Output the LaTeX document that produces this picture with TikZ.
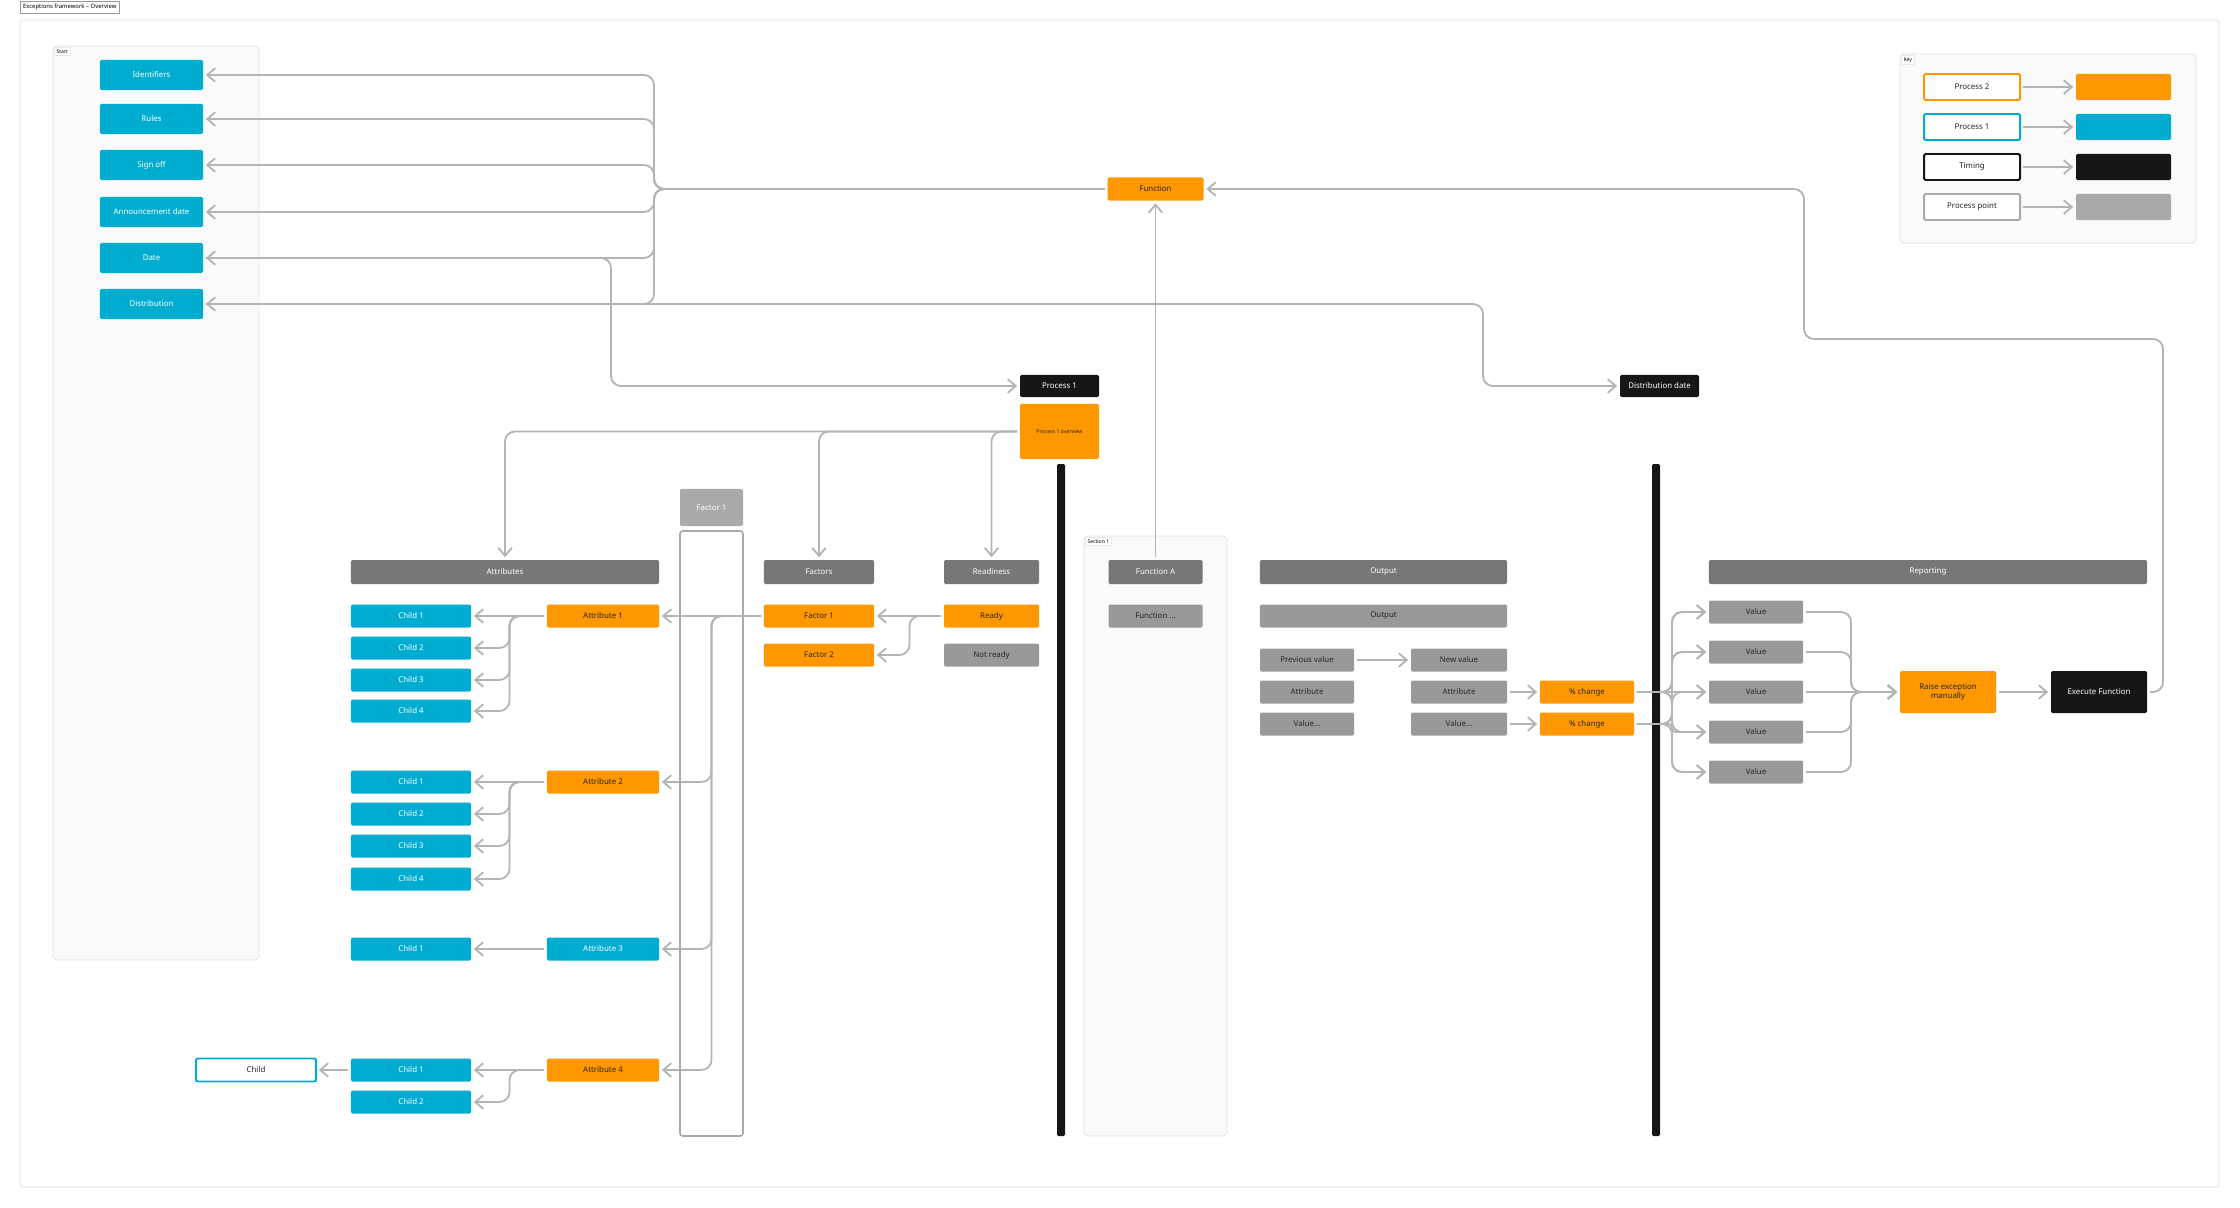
\documentclass[tikz,border=0pt]{standalone}
\usepackage{fontspec}
\setmainfont{Noto Sans}
\usetikzlibrary{arrows.meta,positioning,calc}

\definecolor{pblue}{HTML}{00ADD0}
\definecolor{porange}{HTML}{FF9700}
\definecolor{pblack}{HTML}{161616}
\definecolor{hdgray}{HTML}{777777}
\definecolor{midgray}{HTML}{999999}
\definecolor{ptgray}{HTML}{AAAAAA}
\definecolor{lngray}{HTML}{B4B4B4}
\definecolor{framegray}{HTML}{E2E2E2}
\definecolor{panelbg}{HTML}{FAFAFA}
\definecolor{txtdark}{HTML}{262626}

\begin{document}
\begin{tikzpicture}[
	x=0.025cm,y=-0.025cm,
	>={Straight Barb[length=2mm,width=3.4mm]},
	every node/.style={font=\fontsize{5.6}{6.7}\selectfont},
	box/.style={rectangle, rounded corners=1pt, inner sep=1pt, outer sep=2pt, minimum height=0.575cm, align=center},
	procone/.style={box, fill=pblue, text=white},
	proctwo/.style={box, fill=porange, text=txtdark},
	timingbox/.style={box, fill=pblack, text=white},
	headbox/.style={box, fill=hdgray, text=white, minimum height=0.6cm},
	pointbox/.style={box, fill=midgray, text=txtdark},
	keybox/.style={box, fill=white, line width=1.4pt, text=txtdark, minimum width=2.4cm, minimum height=0.65cm},
	swatch/.style={box, minimum width=2.375cm, minimum height=0.65cm},
	conn/.style={draw=lngray, line width=1.3pt, rounded corners=2.5mm},
	flow/.style={conn, ->},
	panel/.style={draw=framegray, fill=panelbg, line width=0.6pt, rounded corners=3pt},
	tab/.style={draw=framegray, fill=white, font=\fontsize{3.6}{4.2}\selectfont, inner sep=1.6pt, anchor=north west, rounded corners=0.5pt}
	]
	
	% --------------------------
	% Canvas and frame
	% --------------------------
	\fill[white] (0,0) rectangle (2240,1208);
	\useasboundingbox (0,0) rectangle (2240,1208);
	\draw[framegray, line width=0.6pt, rounded corners=2pt] (20,20) rectangle (2219,1187);
	\node[draw=midgray, line width=0.4pt, inner xsep=2pt, inner ysep=1pt, minimum height=0.3cm, anchor=north west, font=\fontsize{4.2}{5}\selectfont] (title) at (20,1) {Exceptions framework – Overview};
	
	% panels
	\draw[panel] (53,46) rectangle (259,960);
	\node[tab] (tStart) at (54,47) {Start};
	\draw[panel] (1900,54) rectangle (2196,243);
	\node[tab] (tKey) at (1901,55) {Key};
	\draw[panel] (1084,536) rectangle (1227,1136);
	\node[tab] (tSec) at (1085,537) {Section 1};
	
	% factor column and timing bars
	\draw[ptgray, fill=white, line width=1.2pt, rounded corners=2pt] (680,531) rectangle (743,1136);
	\fill[pblack, rounded corners=1pt] (1057,464) rectangle (1065,1136);
	\fill[pblack, rounded corners=1pt] (1652,464) rectangle (1660,1136);
	
	% --------------------------
	% Start column
	% --------------------------
	\node[procone, minimum width=2.575cm, minimum height=0.75cm] (ident) at (151.5,75) {Identifiers};
	\node[procone, minimum width=2.575cm, minimum height=0.75cm] (rules) at (151.5,119) {Rules};
	\node[procone, minimum width=2.575cm, minimum height=0.75cm] (signoff) at (151.5,165) {Sign off};
	\node[procone, minimum width=2.575cm, minimum height=0.75cm] (annc) at (151.5,212) {Announcement date};
	\node[procone, minimum width=2.575cm, minimum height=0.75cm] (date) at (151.5,258) {Date};
	\node[procone, minimum width=2.575cm, minimum height=0.75cm] (dist) at (151.5,304) {Distribution};
	
	% --------------------------
	% Top row
	% --------------------------
	\node[proctwo, minimum width=2.4cm] (fn) at (1155.5,189) {Function};
	\node[timingbox, minimum width=1.975cm, minimum height=0.55cm] (proc) at (1059.5,386) {Process 1};
	\node[proctwo, minimum width=1.975cm, minimum height=1.375cm, font=\fontsize{3.7}{4.4}\selectfont] (overview) at (1059.5,431.5) {Process 1 overview};
	\node[timingbox, minimum width=1.975cm, minimum height=0.55cm] (distdate) at (1659.5,386) {Distribution date};
	
	% --------------------------
	% Headers
	% --------------------------
	\node[box, fill=ptgray, text=white, minimum width=1.575cm, minimum height=0.925cm] (facone) at (711.5,507.5) {Factor 1};
	\node[headbox, minimum width=7.7cm] (attrs) at (505,572) {Attributes};
	\node[headbox, minimum width=2.75cm] (factors) at (819,572) {Factors};
	\node[headbox, minimum width=2.375cm] (readiness) at (991.5,572) {Readiness};
	\node[headbox, minimum width=2.35cm] (funA) at (1155.5,572) {Function A};
	\node[headbox, minimum width=6.175cm] (output) at (1383.5,572) {Output};
	\node[headbox, minimum width=10.95cm] (reporting) at (1928,572) {Reporting};
	
	% --------------------------
	% Attributes and children
	% --------------------------
	\node[proctwo, minimum width=2.8cm] (att1) at (603,616) {Attribute 1};
	\node[procone, minimum width=3cm] (c11) at (411,616) {Child 1};
	\node[procone, minimum width=3cm] (c12) at (411,648) {Child 2};
	\node[procone, minimum width=3cm] (c13) at (411,680) {Child 3};
	\node[procone, minimum width=3cm] (c14) at (411,711) {Child 4};
	
	\node[proctwo, minimum width=2.8cm] (att2) at (603,782) {Attribute 2};
	\node[procone, minimum width=3cm] (c21) at (411,782) {Child 1};
	\node[procone, minimum width=3cm] (c22) at (411,814) {Child 2};
	\node[procone, minimum width=3cm] (c23) at (411,846) {Child 3};
	\node[procone, minimum width=3cm] (c24) at (411,879) {Child 4};
	
	\node[procone, minimum width=2.8cm] (att3) at (603,949) {Attribute 3};
	\node[procone, minimum width=3cm] (c31) at (411,949) {Child 1};
	
	\node[proctwo, minimum width=2.8cm] (att4) at (603,1070) {Attribute 4};
	\node[procone, minimum width=3cm] (c41) at (411,1070) {Child 1};
	\node[procone, minimum width=3cm] (c42) at (411,1102) {Child 2};
	\node[box, draw=pblue, line width=1.4pt, fill=white, text=txtdark, minimum width=3cm] (cw) at (256,1070) {Child};
	
	% factors, readiness, function
	\node[proctwo, minimum width=2.75cm] (fac1) at (819,616) {Factor 1};
	\node[proctwo, minimum width=2.75cm] (fac2) at (819,655) {Factor 2};
	\node[proctwo, minimum width=2.375cm] (ready) at (991.5,616) {Ready};
	\node[pointbox, minimum width=2.375cm] (notready) at (991.5,655) {Not ready};
	\node[pointbox, minimum width=2.35cm] (funB) at (1155.5,616) {Function ...};
	
	% --------------------------
	% Output
	% --------------------------
	\node[pointbox, minimum width=6.175cm] (outrow) at (1383.5,616) {Output};
	\node[pointbox, minimum width=2.35cm] (prev) at (1307,660) {Previous value};
	\node[pointbox, minimum width=2.4cm] (newv) at (1459,660) {New value};
	\node[pointbox, minimum width=2.35cm] (attL) at (1307,692) {Attribute};
	\node[pointbox, minimum width=2.4cm] (attR) at (1459,692) {Attribute};
	\node[pointbox, minimum width=2.35cm] (valL) at (1307,724) {Value...};
	\node[pointbox, minimum width=2.4cm] (valR) at (1459,724) {Value...};
	\node[proctwo, minimum width=2.35cm] (pc1) at (1587,692) {\% change};
	\node[proctwo, minimum width=2.35cm] (pc2) at (1587,724) {\% change};
	
	% --------------------------
	% Reporting
	% --------------------------
	\node[pointbox, minimum width=2.35cm] (v1) at (1756,612) {Value};
	\node[pointbox, minimum width=2.35cm] (v2) at (1756,652) {Value};
	\node[pointbox, minimum width=2.35cm] (v3) at (1756,692) {Value};
	\node[pointbox, minimum width=2.35cm] (v4) at (1756,732) {Value};
	\node[pointbox, minimum width=2.35cm] (v5) at (1756,772) {Value};
	\node[proctwo, minimum width=2.4cm, minimum height=1.05cm] (raise) at (1948,692) {Raise exception\\manually};
	\node[timingbox, minimum width=2.4cm, minimum height=1.05cm] (exec) at (2099,692) {Execute Function};
	
	% --------------------------
	% Key
	% --------------------------
	\node[keybox, draw=porange] (k1) at (1972,87) {Process 2};
	\node[keybox, draw=pblue] (k2) at (1972,127) {Process 1};
	\node[keybox, draw=pblack] (k3) at (1972,167) {Timing};
	\node[keybox, draw=ptgray] (k4) at (1972,207) {Process point};
	\node[swatch, fill=porange] (s1) at (2123.5,87) {};
	\node[swatch, fill=pblue] (s2) at (2123.5,127) {};
	\node[swatch, fill=pblack] (s3) at (2123.5,167) {};
	\node[swatch, fill=ptgray] (s4) at (2123.5,207) {};
	\draw[flow] (k1) -- (s1);
	\draw[flow] (k2) -- (s2);
	\draw[flow] (k3) -- (s3);
	\draw[flow] (k4) -- (s4);
	
	% --------------------------
	% Connectors
	% --------------------------
	\coordinate (jStart) at (654,189);
	\coordinate (jDate) at (611,258);
	\coordinate (jDist) at (1483,304);
	\coordinate (rA) at (2163,339);
	\coordinate (rB) at (1804,339);
	
	% function to start items
	\draw[flow] (fn.west) -- (jStart) |- (ident.east);
	\draw[flow] (fn.west) -- (jStart) |- (rules.east);
	\draw[flow] (fn.west) -- (jStart) |- (signoff.east);
	\draw[flow] (fn.west) -- (jStart) |- (annc.east);
	\draw[flow] (fn.west) -- (jStart) |- (date.east);
	\draw[flow] (fn.west) -- (jStart) |- (dist.east);
	\draw[flow] (date.east) -- (jDate) |- (proc.west);
	\draw[flow] (dist.east) -- (jDist) |- (distdate.west);
	\draw[flow] (funA) -- (fn);
	\draw[flow] (exec.east) -| (rA) -- (rB) |- (fn.east);
	
	% overview to sections
	\draw[flow] (overview.west) -| (attrs.north);
	\draw[flow] (overview.west) -| (factors.north);
	\draw[flow] (overview.west) -| (readiness.north);
	
	% factor to attributes
	\coordinate (jFac) at (711.5,616);
	\draw[flow] (fac1.west) -- (att1.east);
	\draw[flow] (fac1.west) -- (jFac) |- (att2.east);
	\draw[flow] (fac1.west) -- (jFac) |- (att3.east);
	\draw[flow] (fac1.west) -- (jFac) |- (att4.east);
	
	% readiness to factors
	\coordinate (jRdy) at (909.5,616);
	\draw[flow] (ready.west) -- (fac1.east);
	\draw[flow] (ready.west) -- (jRdy) |- (fac2.east);
	
	% attributes to children
	\coordinate (jA1) at (509.5,616);
	\coordinate (jA2) at (509.5,782);
	\coordinate (jA4) at (509.5,1070);
	\draw[flow] (att1.west) -- (c11.east);
	\draw[flow] (att1.west) -- (jA1) |- (c12.east);
	\draw[flow] (att1.west) -- (jA1) |- (c13.east);
	\draw[flow] (att1.west) -- (jA1) |- (c14.east);
	\draw[flow] (att2.west) -- (c21.east);
	\draw[flow] (att2.west) -- (jA2) |- (c22.east);
	\draw[flow] (att2.west) -- (jA2) |- (c23.east);
	\draw[flow] (att2.west) -- (jA2) |- (c24.east);
	\draw[flow] (att3.west) -- (c31.east);
	\draw[flow] (att4.west) -- (c41.east);
	\draw[flow] (att4.west) -- (jA4) |- (c42.east);
	\draw[flow] (c41.west) -- (cw.east);
	
	% output
	\draw[flow] (prev) -- (newv);
	\draw[flow] (attR) -- (pc1);
	\draw[flow] (valR) -- (pc2);
	
	% change to values
	\coordinate (jP1) at (1672,692);
	\coordinate (jP2) at (1672,724);
	\draw[flow] (pc1.east) -- (jP1) |- (v1.west);
	\draw[flow] (pc1.east) -- (jP1) |- (v2.west);
	\draw[flow] (pc1.east) -- (v3.west);
	\draw[flow] (pc1.east) -- (jP1) |- (v4.west);
	\draw[flow] (pc1.east) -- (jP1) |- (v5.west);
	\draw[flow] (pc2.east) -- (jP2) |- (v1.west);
	\draw[flow] (pc2.east) -- (jP2) |- (v2.west);
	\draw[flow] (pc2.east) -- (jP2) |- (v3.west);
	\draw[flow, rounded corners=0.9mm] (pc2.east) -- (jP2) |- (v4.west);
	\draw[flow] (pc2.east) -- (jP2) |- (v5.west);
	
	% values to exception
	\coordinate (jR) at (1851,692);
	\draw[flow] (v1.east) -| (jR) -- (raise.west);
	\draw[flow] (v2.east) -| (jR) -- (raise.west);
	\draw[flow] (v3.east) -- (raise.west);
	\draw[flow] (v4.east) -| (jR) -- (raise.west);
	\draw[flow] (v5.east) -| (jR) -- (raise.west);
	\draw[flow] (raise) -- (exec);
	
\end{tikzpicture}
\end{document}
